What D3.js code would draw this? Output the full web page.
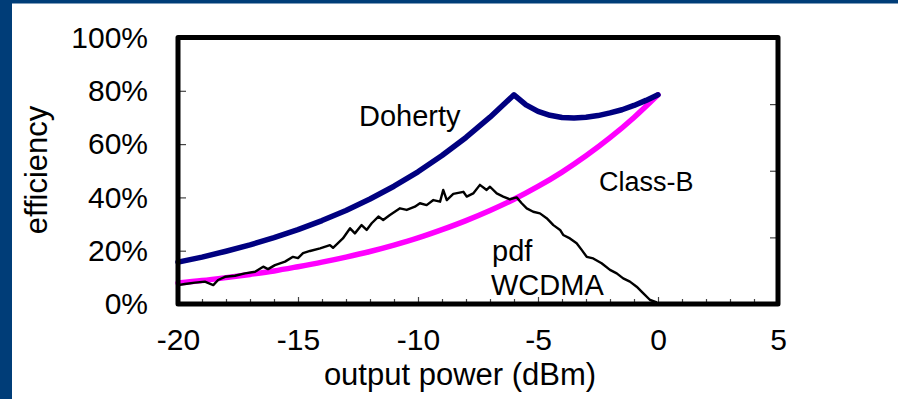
<!DOCTYPE html>
<html><head><meta charset="utf-8">
<script src="https://cdn.jsdelivr.net/npm/d3@7"></script>
<style>
html,body{margin:0;padding:0;background:#fff;}
svg{display:block;}
text{font-family:"Liberation Sans",Arial,sans-serif;fill:#000;}
</style></head>
<body>
<svg id="c" width="898" height="399"></svg>
<script>
// ---- data ----
const dohertyX = [-20,-19,-18,-17,-16,-15,-14,-13,-12,-11,-10,-9,-8,-7,-6,-5.5,-5,-4.5,-4,-3.5,-3,-2.5,-2,-1.5,-1,-0.5,0];
const dohertyY = [15.7,17.6,19.8,22.2,24.9,27.9,31.3,35.1,39.4,44.2,49.6,55.7,62.5,70.1,78.5,74.7,72.3,70.8,70.0,69.8,70.1,70.7,71.7,72.9,74.5,76.4,78.5];
const classBX = [-20,-19,-18,-17,-16,-15,-14,-13,-12,-11,-10,-9,-8,-7,-6,-5,-4,-3,-2,-1,0];
const classBY = [7.9,8.8,9.9,11.1,12.4,14.0,15.7,17.6,19.7,22.1,24.8,27.9,31.3,35.1,39.3,44.1,49.5,55.6,62.4,70.0,78.5];
const pdfX = [-20.0,-19.71,-19.29,-18.88,-18.53,-18.33,-18.04,-17.63,-17.21,-16.79,-16.45,-16.25,-15.96,-15.54,-15.21,-15.0,-14.79,-14.5,-14.08,-13.67,-13.54,-13.13,-12.83,-12.63,-12.35,-12.14,-11.93,-11.65,-11.45,-11.17,-10.75,-10.47,-10.13,-9.92,-9.64,-9.36,-9.08,-8.95,-8.8,-8.53,-8.11,-7.97,-7.7,-7.42,-7.14,-7.0,-6.72,-6.45,-6.17,-5.89,-5.68,-5.47,-5.2,-4.92,-4.64,-4.36,-4.08,-3.95,-3.67,-3.39,-3.18,-2.97,-2.7,-2.35,-2.0,-1.72,-1.45,-1.17,-0.89,-0.61,-0.33,-0.05];
const pdfY = [7.1,7.5,8.0,8.4,7.1,9.0,10.2,10.6,11.5,12.1,14.0,13.1,14.6,15.9,17.7,17.2,19.1,19.9,20.9,22.1,21.1,24.6,28.4,26.5,29.6,27.8,30.3,32.8,31.5,33.4,35.9,35.3,36.5,37.8,37.1,39.0,38.4,42.8,39.0,41.3,42.1,40.3,41.5,44.7,42.8,44.0,41.5,40.3,39.3,40.0,37.8,35.9,34.6,34.0,32.2,29.6,27.8,25.9,24.6,22.8,20.3,17.7,17.1,15.3,12.8,11.5,9.6,8.4,6.5,4.0,1.5,0.6];
const xMajorTicks = [-20,-15,-10,-5,0,5];
const xMinorTicks = [-19,-18,-17,-16,-14,-13,-12,-11,-9,-8,-7,-6,-4,-3,-2,-1,1,2,3,4];
const yTicks = [0,20,40,60,80,100];
const y2Ticks = [1,2,3];
const labels = {doherty:"Doherty", classB:"Class-B", pdf:"pdf", wcdma:"WCDMA", xTitle:"output power (dBm)", yTitle:"efficiency"};

// ---- drawing ----
const svg = d3.select("#c");
const L=178, R=778, T=37.5, B=304;
const x = d3.scaleLinear().domain([-20,5]).range([L,R]);
const y = d3.scaleLinear().domain([0,100]).range([B,T]);
const y2 = d3.scaleLinear().domain([0,4]).range([B,T]);

// frame
svg.append("rect").attr("x",0).attr("y",0).attr("width",898).attr("height",3.5).attr("fill","#003d78");
svg.append("rect").attr("x",0).attr("y",0).attr("width",12).attr("height",399).attr("fill","#003d78");

const font = 30;
// axes
const gxMin = svg.append("g").attr("transform",`translate(0,${B})`)
  .call(d3.axisBottom(x).tickValues(xMinorTicks).tickSize(-5).tickFormat(""));
const gxMaj = svg.append("g").attr("transform",`translate(0,${B})`)
  .call(d3.axisBottom(x).tickValues(xMajorTicks).tickSize(-7).tickPadding(25).tickFormat(d=>d));
const gy = svg.append("g").attr("transform",`translate(${L},0)`)
  .call(d3.axisLeft(y).tickValues(yTicks).tickSize(-8).tickPadding(30).tickFormat(d=>d+"%"));
const gy2 = svg.append("g").attr("transform",`translate(${R},0)`)
  .call(d3.axisRight(y2).tickValues(y2Ticks).tickSize(-8).tickFormat(""));
[gxMin,gxMaj,gy,gy2].forEach(g=>{
  g.select(".domain").remove();
  g.selectAll("line").attr("stroke","#444").attr("stroke-width",1.2);
  g.selectAll("text").attr("font-size",font).attr("font-family","Liberation Sans, Arial, sans-serif").attr("fill","#000");
});

// series
const line = d3.line().x(d=>x(d[0])).y(d=>y(d[1]));
svg.append("path").datum(d3.zip(classBX,classBY))
  .attr("d",line.curve(d3.curveMonotoneX)).attr("fill","none").attr("stroke","#ff00ff").attr("stroke-width",5.5).attr("stroke-linecap","round");
svg.append("path").datum(d3.zip(dohertyX,dohertyY))
  .attr("d",d3.line().x(d=>x(d[0])).y(d=>y(d[1]))).attr("fill","none").attr("stroke","#000080").attr("stroke-width",5.5).attr("stroke-linecap","round").attr("stroke-linejoin","round");
svg.append("path").datum(d3.zip(pdfX,pdfY))
  .attr("d",d3.line().x(d=>x(d[0])).y(d=>y(d[1]))).attr("fill","none").attr("stroke","#000").attr("stroke-width",2.4).attr("stroke-linejoin","round");

// border
svg.append("rect").attr("x",L).attr("y",T).attr("width",R-L).attr("height",B-T)
  .attr("fill","none").attr("stroke","#000").attr("stroke-width",5).attr("stroke-linejoin","round");

// annotations
svg.append("text").attr("x",359).attr("y",126).attr("font-size",29).text(labels.doherty);
svg.append("text").attr("x",599).attr("y",191).attr("font-size",27).text(labels.classB);
svg.append("text").attr("x",492).attr("y",261).attr("font-size",29).text(labels.pdf);
svg.append("text").attr("x",491).attr("y",295).attr("font-size",29).text(labels.wcdma);

// titles
svg.append("text").attr("x",460).attr("y",385).attr("text-anchor","middle").attr("font-size",31).text(labels.xTitle);
svg.append("text").attr("transform","translate(46.5,170) rotate(-90)").attr("text-anchor","middle").attr("font-size",31).text(labels.yTitle);
</script>
</body></html>
